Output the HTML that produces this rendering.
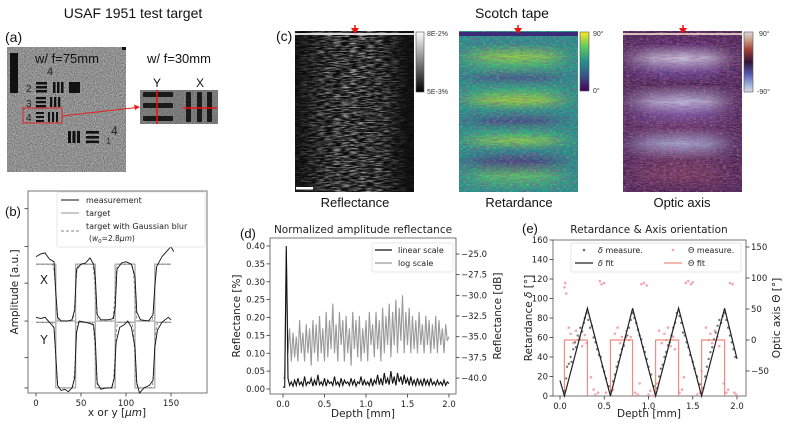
<!DOCTYPE html>
<html><head><meta charset="utf-8">
<style>
html,body{margin:0;padding:0;background:#fff;}
svg{display:block;}
.cal{font-family:"Liberation Sans",sans-serif;fill:#111;}
.dj{font-family:"DejaVu Sans","Liberation Sans",sans-serif;fill:#222;}
</style></head>
<body>
<svg id="fig" width="793" height="427" viewBox="0 0 793 427" xmlns="http://www.w3.org/2000/svg">
<defs>
<filter id="fSpeck" x="0" y="0" width="100%" height="100%">
<feTurbulence type="fractalNoise" baseFrequency="0.9" numOctaves="1" seed="4"/>
<feColorMatrix type="matrix" values="0 0 0 0 1 0 0 0 0 1 0 0 0 0 1 1.4 0 0 0 -0.45"/>
</filter>
<filter id="fSpeckD" x="0" y="0" width="100%" height="100%">
<feTurbulence type="fractalNoise" baseFrequency="0.9" numOctaves="1" seed="9"/>
<feColorMatrix type="matrix" values="0 0 0 0 0 0 0 0 0 0 0 0 0 0 0 1.4 0 0 0 -0.45"/>
</filter>
<filter id="fStreak" x="0" y="0" width="100%" height="100%">
<feTurbulence type="fractalNoise" baseFrequency="0.12 0.8" numOctaves="2" seed="2"/>
<feColorMatrix type="matrix" values="0 0 0 0 1 0 0 0 0 1 0 0 0 0 1 2.4 0 0 0 -0.95"/>
</filter>
<filter id="fStreakD" x="0" y="0" width="100%" height="100%">
<feTurbulence type="fractalNoise" baseFrequency="0.1 0.8" numOctaves="2" seed="7"/>
<feColorMatrix type="matrix" values="0 0 0 0 0.25 0 0 0 0 0.05 0 0 0 0 0.35 2.2 0 0 0 -0.9"/>
</filter>
<filter id="fSpeckY" x="0" y="0" width="100%" height="100%">
<feTurbulence type="fractalNoise" baseFrequency="0.3 0.9" numOctaves="1" seed="12"/>
<feColorMatrix type="matrix" values="0 0 0 0 0.75 0 0 0 0 0.87 0 0 0 0 0.15 2.2 0 0 0 -1.0"/>
</filter>
<filter id="fSpeckR" x="0" y="0" width="100%" height="100%">
<feTurbulence type="fractalNoise" baseFrequency="0.3 0.9" numOctaves="1" seed="15"/>
<feColorMatrix type="matrix" values="0 0 0 0 0.7 0 0 0 0 0.3 0 0 0 0 0.3 2.2 0 0 0 -0.95"/>
</filter>
<linearGradient id="gHoriz" x1="0" y1="0" x2="1" y2="0">
<stop offset="0" stop-color="#fff" stop-opacity="0.15"/>
<stop offset="0.25" stop-color="#fff" stop-opacity="0.8"/>
<stop offset="0.5" stop-color="#fff" stop-opacity="1"/>
<stop offset="0.72" stop-color="#fff" stop-opacity="0.8"/>
<stop offset="0.95" stop-color="#fff" stop-opacity="0.1"/>
</linearGradient>
<mask id="mRef" maskContentUnits="userSpaceOnUse"><rect x="295" y="31" width="119" height="161" fill="url(#gHoriz)"/></mask>
<mask id="mRet" maskContentUnits="userSpaceOnUse"><rect x="459" y="31" width="119" height="161" fill="url(#gHoriz)"/></mask>
<mask id="mOpt" maskContentUnits="userSpaceOnUse"><rect x="623" y="31" width="119" height="161" fill="url(#gHoriz)"/></mask>
<linearGradient id="gRetBands" x1="0" y1="0" x2="0" y2="1">
<stop offset="0" stop-color="#21918c"/>
<stop offset="0.08" stop-color="#2a8a8c"/>
<stop offset="0.16" stop-color="#9bd93c"/>
<stop offset="0.22" stop-color="#3fbc73"/>
<stop offset="0.29" stop-color="#3b528b"/>
<stop offset="0.36" stop-color="#2fb47c"/>
<stop offset="0.43" stop-color="#addc30"/>
<stop offset="0.49" stop-color="#2a9a86"/>
<stop offset="0.56" stop-color="#414487"/>
<stop offset="0.63" stop-color="#2fb47c"/>
<stop offset="0.68" stop-color="#8fd744"/>
<stop offset="0.74" stop-color="#2a8a8c"/>
<stop offset="0.81" stop-color="#46337e"/>
<stop offset="0.9" stop-color="#5ec962"/>
<stop offset="1" stop-color="#21918c"/>
</linearGradient>
<linearGradient id="gOptBands" x1="0" y1="0" x2="0" y2="1">
<stop offset="0" stop-color="#3d1a4a"/>
<stop offset="0.08" stop-color="#4a2060"/>
<stop offset="0.17" stop-color="#c8ccdf"/>
<stop offset="0.26" stop-color="#5a3a8a"/>
<stop offset="0.33" stop-color="#3d1a4a"/>
<stop offset="0.44" stop-color="#b8c0de"/>
<stop offset="0.52" stop-color="#6a4a9a"/>
<stop offset="0.6" stop-color="#5a2a5a"/>
<stop offset="0.7" stop-color="#9aa8d0"/>
<stop offset="0.8" stop-color="#5a2a55"/>
<stop offset="0.9" stop-color="#6a3050"/>
<stop offset="1" stop-color="#3d1a4a"/>
</linearGradient>
<linearGradient id="cbGray" x1="0" y1="0" x2="0" y2="1"><stop offset="0" stop-color="#fff"/><stop offset="1" stop-color="#000"/></linearGradient>
<linearGradient id="cbViridis" x1="0" y1="0" x2="0" y2="1">
<stop offset="0" stop-color="#fde725"/><stop offset="0.25" stop-color="#5ec962"/><stop offset="0.5" stop-color="#21918c"/><stop offset="0.75" stop-color="#3b528b"/><stop offset="1" stop-color="#440154"/></linearGradient>
<linearGradient id="cbTwilight" x1="0" y1="0" x2="0" y2="1">
<stop offset="0" stop-color="#e2d9e2"/><stop offset="0.12" stop-color="#c9a48c"/><stop offset="0.3" stop-color="#a23d3a"/><stop offset="0.5" stop-color="#2f1436"/><stop offset="0.7" stop-color="#5a56b0"/><stop offset="0.88" stop-color="#9bb3d6"/><stop offset="1" stop-color="#e2d9e2"/></linearGradient>
</defs>

<!-- (a) USAF -->
<text class="cal" x="133" y="18" font-size="14" text-anchor="middle">USAF 1951 test target</text>
<text class="cal" x="5" y="42" font-size="14">(a)</text>
<g>
<rect x="7" y="47" width="119" height="125" fill="#9a9a9a"/>
<rect x="7" y="47" width="119" height="125" filter="url(#fSpeck)" opacity="0.6"/>
<rect x="7" y="47" width="119" height="125" filter="url(#fSpeckD)" opacity="0.6"/>
<rect x="10" y="53" width="8" height="40" fill="#111"/>
<rect x="122" y="47" width="4" height="3" fill="#111"/>
<text x="35" y="63" font-size="13" fill="#111" font-family="Liberation Sans,sans-serif">w/ f=75mm</text>
<text x="47" y="75" font-size="11" fill="#222" font-family="Liberation Sans,sans-serif">4</text>
<text x="26" y="92" font-size="10" fill="#222" font-family="Liberation Sans,sans-serif">2</text>
<rect x="36" y="82" width="11" height="2.5" fill="#111"/><rect x="36" y="86" width="11" height="2.5" fill="#111"/><rect x="36" y="90" width="11" height="2.5" fill="#111"/>
<rect x="53" y="82" width="2.5" height="11" fill="#111"/><rect x="57" y="82" width="2.5" height="11" fill="#111"/><rect x="61" y="82" width="2.5" height="11" fill="#111"/>
<rect x="69" y="82" width="11" height="11" fill="#111"/>
<text x="26" y="107" font-size="10" fill="#222" font-family="Liberation Sans,sans-serif">3</text>
<rect x="36" y="97" width="10" height="2.3" fill="#111"/><rect x="36" y="101" width="10" height="2.3" fill="#111"/><rect x="36" y="105" width="10" height="2.3" fill="#111"/>
<rect x="50" y="97" width="2.3" height="10" fill="#111"/><rect x="54" y="97" width="2.3" height="10" fill="#111"/><rect x="58" y="97" width="2.3" height="10" fill="#111"/>
<text x="26" y="121" font-size="10" fill="#222" font-family="Liberation Sans,sans-serif">4</text>
<rect x="36" y="112" width="8" height="2" fill="#111"/><rect x="36" y="116" width="8" height="2" fill="#111"/><rect x="36" y="120" width="8" height="2" fill="#111"/>
<rect x="48" y="112" width="2" height="10" fill="#111"/><rect x="52" y="112" width="2" height="10" fill="#111"/><rect x="56" y="112" width="2" height="10" fill="#111"/>
<rect x="23" y="108" width="39" height="15" fill="none" stroke="#e02020" stroke-width="1"/>
<rect x="68" y="131" width="3" height="12" fill="#111"/><rect x="72.5" y="131" width="3" height="12" fill="#111"/><rect x="77" y="131" width="3" height="12" fill="#111"/>
<rect x="86" y="131" width="13" height="2.6" fill="#111"/><rect x="86" y="136" width="13" height="2.6" fill="#111"/><rect x="86" y="140.5" width="13" height="2.6" fill="#111"/>
<text x="106" y="144" font-size="9" fill="#333" font-family="Liberation Sans,sans-serif">1</text>
<text x="111" y="135" font-size="12" fill="#222" font-family="Liberation Sans,sans-serif">4</text>
</g>
<line x1="62" y1="116" x2="137" y2="107.5" stroke="#e02020" stroke-width="1"/>
<polygon points="140,107 134,104.5 135,110" fill="#e02020"/>
<text class="cal" x="147" y="63" font-size="13">w/ f=30mm</text>
<text class="cal" x="157" y="87" font-size="12" text-anchor="middle">Y</text>
<text class="cal" x="200" y="87" font-size="12" text-anchor="middle">X</text>
<g>
<rect x="140" y="90" width="78" height="34" fill="#8c8c8c"/>
<rect x="140" y="90" width="78" height="34" filter="url(#fSpeckD)" opacity="0.5"/>
<rect x="143" y="92" width="30" height="5" rx="1" fill="#1a1a1a"/>
<rect x="143" y="103" width="30" height="5" rx="1" fill="#1a1a1a"/>
<rect x="143" y="116" width="30" height="5" rx="1" fill="#1a1a1a"/>
<rect x="186" y="92" width="5" height="30" rx="1" fill="#1a1a1a"/>
<rect x="197" y="92" width="5" height="30" rx="1" fill="#1a1a1a"/>
<rect x="207" y="92" width="5" height="30" rx="1" fill="#1a1a1a"/>
<line x1="157" y1="90" x2="157" y2="124" stroke="#ee1111" stroke-width="1.5"/>
<line x1="183" y1="108" x2="217" y2="108" stroke="#ee1111" stroke-width="1.5"/>
</g>

<!-- (c) Scotch tape -->
<text class="cal" x="512" y="18" font-size="14" text-anchor="middle">Scotch tape</text>
<text class="cal" x="276" y="41" font-size="14">(c)</text>
<g>
<rect x="295" y="31" width="119" height="161" fill="#050505"/>
<g mask="url(#mRef)"><rect x="295" y="31" width="119" height="161" filter="url(#fStreak)" opacity="0.7"/></g>
<rect x="295" y="31" width="119" height="161" filter="url(#fSpeck)" opacity="0.12"/>
<rect x="295" y="33" width="119" height="2" fill="#ddd"/>
<rect x="296" y="187" width="17" height="2.5" fill="#fff"/>
</g>
<g>
<rect x="416" y="32" width="8" height="60" fill="url(#cbGray)" stroke="#555" stroke-width="0.6"/>
<text x="427" y="36" font-size="7" fill="#333" font-family="Liberation Sans,sans-serif">8E-2%</text>
<text x="427" y="94" font-size="7" fill="#333" font-family="Liberation Sans,sans-serif">5E-3%</text>
</g>
<g>
<rect x="459" y="31" width="119" height="161" fill="#21918c"/>
<g mask="url(#mRet)"><rect x="459" y="31" width="119" height="161" fill="url(#gRetBands)" opacity="0.85"/></g>
<rect x="459" y="31" width="119" height="161" filter="url(#fStreakD)" opacity="0.55"/>
<rect x="459" y="31" width="119" height="161" filter="url(#fSpeckY)" opacity="0.35"/>
<rect x="459" y="32" width="119" height="4" fill="#3b2a78"/>
</g>
<g>
<rect x="580" y="32" width="9" height="59" fill="url(#cbViridis)" stroke="#555" stroke-width="0.6"/>
<text x="593" y="36" font-size="7" fill="#333" font-family="Liberation Sans,sans-serif">90°</text>
<text x="593" y="93" font-size="7" fill="#333" font-family="Liberation Sans,sans-serif">0°</text>
</g>
<g>
<rect x="623" y="31" width="119" height="161" fill="#3f1b4c"/>
<g mask="url(#mOpt)"><rect x="623" y="31" width="119" height="161" fill="url(#gOptBands)"/></g>
<rect x="623" y="31" width="119" height="161" filter="url(#fStreakD)" opacity="0.6"/>
<rect x="623" y="31" width="119" height="161" filter="url(#fSpeckR)" opacity="0.5"/>
<rect x="623" y="31" width="119" height="161" filter="url(#fSpeck)" opacity="0.15"/>
<rect x="623" y="33" width="119" height="2" fill="#d9c0b8"/>
</g>
<g>
<rect x="744" y="32" width="9" height="60" fill="url(#cbTwilight)" stroke="#555" stroke-width="0.6"/>
<text x="759" y="36" font-size="7" fill="#333" font-family="Liberation Sans,sans-serif">90°</text>
<text x="757" y="94" font-size="7" fill="#333" font-family="Liberation Sans,sans-serif">-90°</text>
</g>
<g fill="#ee1111" stroke="#ee1111">
<line x1="355" y1="25" x2="355" y2="32" stroke-width="1.5"/><polygon points="351,28 359,28 355,34" stroke="none"/>
<line x1="518" y1="25" x2="518" y2="32" stroke-width="1.5"/><polygon points="514,28 522,28 518,34" stroke="none"/>
<line x1="683" y1="25" x2="683" y2="32" stroke-width="1.5"/><polygon points="679,28 687,28 683,34" stroke="none"/>
</g>
<text class="cal" x="355" y="207" font-size="13" text-anchor="middle">Reflectance</text>
<text class="cal" x="519" y="207" font-size="13" text-anchor="middle">Retardance</text>
<text class="cal" x="682" y="207" font-size="13" text-anchor="middle">Optic axis</text>

<text class="cal" x="5" y="216" font-size="13">(b)</text>
<text class="cal" x="240" y="238" font-size="13">(d)</text>
<text class="cal" x="522" y="233" font-size="13">(e)</text>
<g id="chartB"></g><g id="chartD"></g><g id="chartE"></g>
</svg>
<script>
// ---------- (b) data ----------
var bX = [0,5,10,15,20,22,24,28,35,40,43,45,50,55,60,64,66,68,72,80,86,88,90,95,100,106,110,112,116,125,130,132,134,140,145,150,153];
var bMeasX = [5.4,5.5,5.55,5.3,5.2,4.0,3.0,2.85,2.85,2.9,3.3,4.9,5.1,5.15,5.35,5.1,4.5,3.1,2.9,2.9,2.95,3.4,4.9,5.15,5.2,5.1,4.6,3.2,2.9,2.85,3.1,4.2,5.0,5.4,5.6,5.8,5.6];
var bY = [0,5,10,15,20,22,24,28,32,36,40,43,45,48,55,60,64,66,68,72,78,84,87,89,93,98,102,106,110,112,115,120,126,130,132,135,140,147,150];
var bMeasY = [3.0,2.95,3.0,2.8,2.6,1.5,0.3,0.1,0.15,0.05,0.2,0.6,2.4,2.85,2.8,2.75,2.7,2.0,0.4,0.15,0.2,0.2,0.6,2.0,2.6,2.7,2.85,2.6,1.8,0.4,0.0,0.2,0.3,0.5,1.8,2.5,2.8,3.0,2.9];
var bEdges = [0,22,44,66,88,110,132,150];
var bHighX = 5.1, bLowX = 2.85, bHighY = 2.8, bLowY = 0.2;
var bTicksX = [0,50,100,150];
var bTicksY = [0.2,1.4,2.85,4.35,5.8,7.3];

// ---------- (d) data ----------
var dLinear = [0.005,0.005,0.40,0.03,0.01,0.02,0.008,0.025,0.01,0.03,0.012,0.02,0.008,0.035,0.01,0.02,0.015,0.03,0.008,0.025,0.01,0.04,0.012,0.02,0.01,0.03,0.008,0.025,0.015,0.02,0.01,0.035,0.012,0.02,0.008,0.03,0.01,0.025,0.015,0.02,0.01,0.03,0.012,0.025,0.008,0.02,0.015,0.035,0.01,0.025,0.012,0.02,0.01,0.03,0.008,0.025,0.015,0.04,0.012,0.03,0.01,0.045,0.015,0.03,0.012,0.05,0.015,0.035,0.01,0.045,0.02,0.035,0.012,0.04,0.015,0.03,0.01,0.035,0.012,0.025,0.01,0.03,0.012,0.025,0.008,0.03,0.012,0.025,0.01,0.03,0.012,0.02,0.01,0.025,0.012,0.02,0.01,0.025,0.01,0.02,0.015];
var dLog = [-40,-40,-24.5,-37,-34,-38,-34.5,-37.5,-35,-38,-33,-37,-34.5,-38,-33.5,-37,-34,-38.5,-33,-37,-33.5,-38,-32.5,-37,-34,-38,-32,-37.5,-33,-36.5,-31,-37,-33.5,-38,-32,-36,-33,-38,-32.5,-37,-34,-38.5,-32,-36.5,-33,-37.5,-32.5,-38,-34,-37,-33,-38,-32,-36,-33.5,-37.5,-32,-36.5,-33,-38,-31.5,-37,-32.5,-36,-31,-37.5,-32,-36,-30.5,-37,-31.5,-35.5,-30,-37,-32,-36,-31.5,-37,-32.5,-36.5,-33,-37,-32,-36,-33.5,-37,-32.5,-36,-33,-37,-33.5,-36.5,-32.5,-37,-33,-36,-34,-37,-33.5,-35.5,-35];
var dTicksX = [0.0,0.5,1.0,1.5,2.0];
var dTicksL = [0.00,0.05,0.10,0.15,0.20,0.25,0.30,0.35,0.40];
var dTicksR = [-25.0,-27.5,-30.0,-32.5,-35.0,-37.5,-40.0];

// ---------- (e) data ----------
var eDeltaDepth = [0.05,0.07,0.08,0.1,0.12,0.13,0.15,0.17,0.18,0.2,0.22,0.23,0.25,0.27,0.28,0.3,0.32,0.34,0.36,0.38,0.4,0.42,0.44,0.46,0.48,0.5,0.52,0.55,0.58,0.6,0.62,0.64,0.66,0.68,0.7,0.72,0.74,0.76,0.78,0.8,0.82,0.84,0.86,0.88,0.9,0.92,0.94,0.96,0.98,1.0,1.03,1.06,1.1,1.12,1.14,1.16,1.18,1.2,1.22,1.24,1.26,1.28,1.3,1.32,1.35,1.37,1.39,1.41,1.43,1.45,1.47,1.5,1.52,1.55,1.58,1.62,1.64,1.66,1.68,1.7,1.72,1.74,1.76,1.78,1.8,1.82,1.84,1.86,1.88,1.9,1.92,1.94,1.96,1.98];
var eDeltaVal = [5,18,30,33,40,35,48,55,50,62,58,70,66,75,80,85,78,70,72,60,55,48,42,40,30,25,18,10,5,15,22,30,35,42,48,52,60,62,70,78,85,80,75,68,62,58,50,45,38,30,22,10,8,20,28,32,40,45,52,55,62,70,75,85,82,75,65,62,55,50,42,35,28,20,12,8,20,30,38,45,50,58,65,72,78,75,82,85,78,70,62,55,48,40];
var eThetaDepth = [0.05,0.06,0.07,0.1,0.12,0.15,0.18,0.2,0.22,0.25,0.28,0.3,0.35,0.38,0.4,0.43,0.45,0.47,0.5,0.52,0.55,0.6,0.62,0.65,0.68,0.7,0.72,0.75,0.78,0.8,0.85,0.88,0.9,0.92,0.95,0.98,1.0,1.02,1.05,1.1,1.12,1.15,1.18,1.2,1.22,1.25,1.28,1.3,1.35,1.38,1.4,1.42,1.45,1.48,1.5,1.55,1.58,1.6,1.65,1.68,1.7,1.72,1.75,1.78,1.8,1.85,1.88,1.9,1.92,1.95,1.97,1.99];
var eThetaVal = [85,92,75,20,10,-5,15,0,5,-10,8,-5,-60,-80,-88,-85,95,90,92,-85,-75,-80,10,20,-5,5,-10,15,0,5,-85,-88,-70,90,92,88,-88,-82,-90,-70,15,-5,10,0,20,-10,5,-15,-85,-80,-60,92,95,90,93,-88,-85,-50,20,0,10,-5,15,5,-10,-70,-85,-80,92,90,-85,-88];
var eFitDepth = [0,0.05,0.31,0.57,0.82,1.08,1.34,1.60,1.86,2.0];
var eFitDelta = [16,0,90,0,90,0,90,0,90,38];
var eThetaStart = [0.05,0.57,1.08,1.60];
var eThetaEnd = [0.31,0.82,1.34,1.86];
var eThetaHigh = 0, eThetaLow = -90;
var eTicksX = [0.0,0.5,1.0,1.5,2.0];
var eTicksL = [0,20,40,60,80,100,120,140,160];
var eTicksR = [-50,0,50,100,150];

var NS = "http://www.w3.org/2000/svg";
var TF = 8.5, AF = 10.5;
function el(tag, attrs, parent){ var e=document.createElementNS(NS,tag); for(var k in attrs) e.setAttribute(k,attrs[k]); parent.appendChild(e); return e; }
function txt(s, attrs, parent){ var e=el('text',attrs,parent); e.textContent=s; return e; }
function pts(xs, ys, fx, fy){ var p=[]; for(var i=0;i<Math.min(xs.length,ys.length);i++) p.push(fx(xs[i]).toFixed(1)+','+fy(ys[i]).toFixed(1)); return p.join(' '); }

// ================= (b) =================
(function(){
  var g=document.getElementById('chartB');
  var L=28,R=207,T=191,B=393;
  var sx=function(v){return 36+v*0.9;};
  var sy=function(v){return B-v*25.25;};
  var fr=el('rect',{x:L,y:T,width:R-L,height:B-T,fill:'none',stroke:'#555','stroke-width':0.8},g);
  
  
  bTicksX.forEach(function(t){
    var tk=el('line',{x1:sx(t),x2:sx(t),y1:B,y2:B+3.5,stroke:'#333','stroke-width':0.8},g);
    
    
    var lb=txt(String(t),{x:sx(t),y:B+13,'font-size':TF,'text-anchor':'middle','class':'dj'},g);
    
    
  });
  bTicksY.forEach(function(t){
    var tk=el('line',{x1:L-3.5,x2:L,y1:sy(t),y2:sy(t),stroke:'#333','stroke-width':0.8},g);
    
    
  });
  function target(hi,lo){ var xs=[],ys=[]; for(var i=0;i<bEdges.length-1;i++){ var v=(i%2===0)?hi:lo; xs.push(bEdges[i],bEdges[i+1]); ys.push(v,v);} return [xs,ys]; }
  function blurred(hi,lo){ var xs=[],ys=[]; for(var x=0;x<=150;x+=1){ var s=0,w=0; for(var k=-8;k<=8;k++){ var xx=x+k*0.5; var idx=0; for(var j=0;j<bEdges.length-1;j++){ if(xx>=bEdges[j]) idx=j; } var v=(idx%2===0)?hi:lo; var ww=Math.exp(-(k*0.5)*(k*0.5)/(2*1.4*1.4)); s+=v*ww; w+=ww;} xs.push(x); ys.push(s/w);} return [xs,ys]; }
  [[bHighX,bLowX,'x'],[bHighY,bLowY,'y']].forEach(function(c){
    var t=target(c[0],c[1]);
    var pl=el('polyline',{points:pts(t[0],t[1],sx,sy),fill:'none',stroke:'#aaa','stroke-width':1.3},g);
    
    
    var bl=blurred(c[0],c[1]);
    var pd=el('polyline',{points:pts(bl[0],bl[1],sx,sy),fill:'none',stroke:'#888','stroke-width':0.9,'stroke-dasharray':'3,2'},g);
    
    
  });
  var mx=el('polyline',{points:pts(bX,bMeasX,sx,sy),fill:'none',stroke:'#111','stroke-width':0.9},g);
  
  
  var my=el('polyline',{points:pts(bY,bMeasY,sx,sy),fill:'none',stroke:'#111','stroke-width':0.9},g);
  
  
  var lx=txt('X',{x:44,y:284,'font-size':12,'text-anchor':'middle','class':'dj'},g);
  
  
  var ly=txt('Y',{x:44,y:344,'font-size':12,'text-anchor':'middle','class':'dj'},g);
  
  
  var xl=txt('',{x:117,y:416,'font-size':AF,'text-anchor':'middle','class':'dj'},g);
  xl.innerHTML='x or y [<tspan font-style="italic">μm</tspan>]';
  
  
  var yl=txt('Amplitude [a.u.]',{x:18,y:292,'font-size':AF,'text-anchor':'middle','class':'dj',transform:'rotate(-90 18 292)'},g);
  
  
  var lg=el('g',{},g);
  
  
  el('rect',{x:57,y:192,width:148,height:55,rx:2,fill:'#fff','fill-opacity':0.85,stroke:'#ddd','stroke-width':0.7},lg);
  el('line',{x1:61,x2:79,y1:200,y2:200,stroke:'#111','stroke-width':1},lg);
  txt('measurement',{x:86,y:203,'font-size':8,'class':'dj'},lg);
  el('line',{x1:61,x2:79,y1:213,y2:213,stroke:'#aaa','stroke-width':1.3},lg);
  txt('target',{x:86,y:216,'font-size':8,'class':'dj'},lg);
  el('line',{x1:61,x2:79,y1:231,y2:231,stroke:'#888','stroke-width':0.9,'stroke-dasharray':'3,2'},lg);
  txt('target with Gaussian blur',{x:86,y:229,'font-size':8,'class':'dj'},lg);
  var w0=txt('',{x:89,y:241,'font-size':7.5,'class':'dj'},lg);
  w0.innerHTML='(<tspan font-style="italic">w</tspan><tspan font-size="5.5" dy="2">0</tspan><tspan dy="-2">=2.8</tspan><tspan font-style="italic">μm</tspan>)';
})();

// ================= (d) =================
(function(){
  var g=document.getElementById('chartD');
  var L=270,R=456,T=238,B=394;
  var sx=function(v){return 283+v*83;};
  var syL=function(v){return 389-v*357.5;};
  var syR=function(v){return 254+(-25-v)*8.27;};
  var tt=txt('Normalized amplitude reflectance',{x:363,y:233,'font-size':10.5,'text-anchor':'middle','class':'dj'},g);
  
  
  var fr=el('rect',{x:L,y:T,width:R-L,height:B-T,fill:'none',stroke:'#555','stroke-width':0.8},g);
  
  
  dTicksX.forEach(function(t){
    var tk=el('line',{x1:sx(t),x2:sx(t),y1:B,y2:B+3.5,stroke:'#333','stroke-width':0.8},g);
    
    
    var lb=txt(t.toFixed(1),{x:sx(t),y:B+13,'font-size':TF,'text-anchor':'middle','class':'dj'},g);
    
    
  });
  dTicksL.forEach(function(t){
    var tk=el('line',{x1:L-3.5,x2:L,y1:syL(t),y2:syL(t),stroke:'#333','stroke-width':0.8},g);
    
    
    var lb=txt(t.toFixed(2),{x:L-5,y:syL(t)+3,'font-size':TF,'text-anchor':'end','class':'dj'},g);
    
    
  });
  dTicksR.forEach(function(t){
    var tk=el('line',{x1:R,x2:R+3.5,y1:syR(t),y2:syR(t),stroke:'#333','stroke-width':0.8},g);
    
    
    var lb=txt('\u2212'+Math.abs(t).toFixed(1),{x:R+5,y:syR(t)+3,'font-size':TF,'class':'dj'},g);
    
    
  });
  var dep=function(arr){return arr.map(function(_,i){return i*2.0/(arr.length-1);});};
  var lg=el('polyline',{points:pts(dep(dLog),dLog,sx,syR),fill:'none',stroke:'#999','stroke-width':1.1},g);
  
  
  var ln=el('polyline',{points:pts(dep(dLinear),dLinear,sx,syL),fill:'none',stroke:'#111','stroke-width':1.1},g);
  
  
  var xl=txt('Depth [mm]',{x:363,y:417,'font-size':AF,'text-anchor':'middle','class':'dj'},g);
  
  
  var yl=txt('Reflectance [%]',{x:240,y:316,'font-size':AF,'text-anchor':'middle','class':'dj',transform:'rotate(-90 240 316)'},g);
  
  
  var yr=txt('Reflectance [dB]',{x:501,y:316,'font-size':AF,'text-anchor':'middle','class':'dj',transform:'rotate(-90 501 316)'},g);
  
  
  var lgd=el('g',{},g);
  
  
  el('rect',{x:372,y:243,width:81,height:29,rx:2,fill:'#fff','fill-opacity':0.85,stroke:'#ddd','stroke-width':0.7},lgd);
  el('line',{x1:375,x2:392,y1:250,y2:250,stroke:'#111','stroke-width':1.3},lgd);
  txt('linear scale',{x:398,y:253,'font-size':8,'class':'dj'},lgd);
  el('line',{x1:375,x2:392,y1:263,y2:263,stroke:'#999','stroke-width':1.3},lgd);
  txt('log scale',{x:398,y:266,'font-size':8,'class':'dj'},lgd);
})();

// ================= (e) =================
(function(){
  var g=document.getElementById('chartE');
  var L=553,R=746,T=240,B=396;
  var sx=function(v){return 560+v*88.5;};
  var syL=function(v){return 396-v*0.975;};
  var syR=function(v){return 340-v*0.62;};
  var tt=txt('Retardance & Axis orientation',{x:649,y:233,'font-size':10.5,'text-anchor':'middle','class':'dj'},g);
  
  
  var fr=el('rect',{x:L,y:T,width:R-L,height:B-T,fill:'none',stroke:'#555','stroke-width':0.8},g);
  
  
  eTicksX.forEach(function(t){
    var tk=el('line',{x1:sx(t),x2:sx(t),y1:B,y2:B+3.5,stroke:'#333','stroke-width':0.8},g);
    
    
    var lb=txt(t.toFixed(1),{x:sx(t),y:B+13,'font-size':TF,'text-anchor':'middle','class':'dj'},g);
    
    
  });
  eTicksL.forEach(function(t){
    var tk=el('line',{x1:L-3.5,x2:L,y1:syL(t),y2:syL(t),stroke:'#333','stroke-width':0.8},g);
    
    
    var lb=txt(String(t),{x:L-5,y:syL(t)+3,'font-size':TF,'text-anchor':'end','class':'dj'},g);
    
    
  });
  eTicksR.forEach(function(t){
    var tk=el('line',{x1:R,x2:R+3.5,y1:syR(t),y2:syR(t),stroke:'#333','stroke-width':0.8},g);
    
    
    var lb=txt(t<0?'\u2212'+Math.abs(t):String(t),{x:R+5,y:syR(t)+3,'font-size':TF,'class':'dj'},g);
    
    
  });
  for(var i=0;i<Math.min(eThetaDepth.length,eThetaVal.length);i++){
    var c=el('circle',{cx:sx(eThetaDepth[i]),cy:syR(eThetaVal[i]),r:1.3,fill:'#f4a6b4'},g);
    
    
  }
  for(var j=0;j<eThetaStart.length;j++){
    var p=el('polyline',{points:[sx(eThetaStart[j])+','+syR(eThetaLow),sx(eThetaStart[j])+','+syR(eThetaHigh),sx(eThetaEnd[j])+','+syR(eThetaHigh),sx(eThetaEnd[j])+','+syR(eThetaLow)].join(' '),fill:'none',stroke:'#f08c80','stroke-width':1.2},g);
    
    
  }
  for(var k=0;k<Math.min(eDeltaDepth.length,eDeltaVal.length);k++){
    var d=el('circle',{cx:sx(eDeltaDepth[k]),cy:syL(eDeltaVal[k]),r:1.2,fill:'#777'},g);
    
    
  }
  var fl=el('polyline',{points:pts(eFitDepth,eFitDelta,sx,syL),fill:'none',stroke:'#222','stroke-width':1.2},g);
  
  
  var xl=txt('Depth [mm]',{x:649,y:417,'font-size':AF,'text-anchor':'middle','class':'dj'},g);
  
  
  var yl=txt('',{x:532,y:318,'font-size':AF,'text-anchor':'middle','class':'dj',transform:'rotate(-90 532 318)'},g);
  yl.innerHTML='Retardance <tspan font-style="italic">δ</tspan> [°]';
  
  
  var yr=txt('Optic axis Θ [°]',{x:780,y:318,'font-size':AF,'text-anchor':'middle','class':'dj',transform:'rotate(-90 780 318)'},g);
  
  
  var lgd=el('g',{},g);
  
  
  el('rect',{x:571,y:243,width:170,height:29,rx:2,fill:'#fff','fill-opacity':0.85,stroke:'#ddd','stroke-width':0.7},lgd);
  el('circle',{cx:584,cy:250,r:1.3,fill:'#777'},lgd);
  var t1=txt('',{x:598,y:253,'font-size':8,'class':'dj'},lgd); t1.innerHTML='<tspan font-style="italic">δ</tspan> measure.';
  el('line',{x1:575,x2:593,y1:263,y2:263,stroke:'#222','stroke-width':1.3},lgd);
  var t2=txt('',{x:598,y:266,'font-size':8,'class':'dj'},lgd); t2.innerHTML='<tspan font-style="italic">δ</tspan> fit';
  el('circle',{cx:673,cy:250,r:1.3,fill:'#f4a6b4'},lgd);
  txt('Θ measure.',{x:688,y:253,'font-size':8,'class':'dj'},lgd);
  el('line',{x1:664,x2:682,y1:263,y2:263,stroke:'#f08c80','stroke-width':1.3},lgd);
  txt('Θ fit',{x:688,y:266,'font-size':8,'class':'dj'},lgd);
})();
</script>
</body></html>
